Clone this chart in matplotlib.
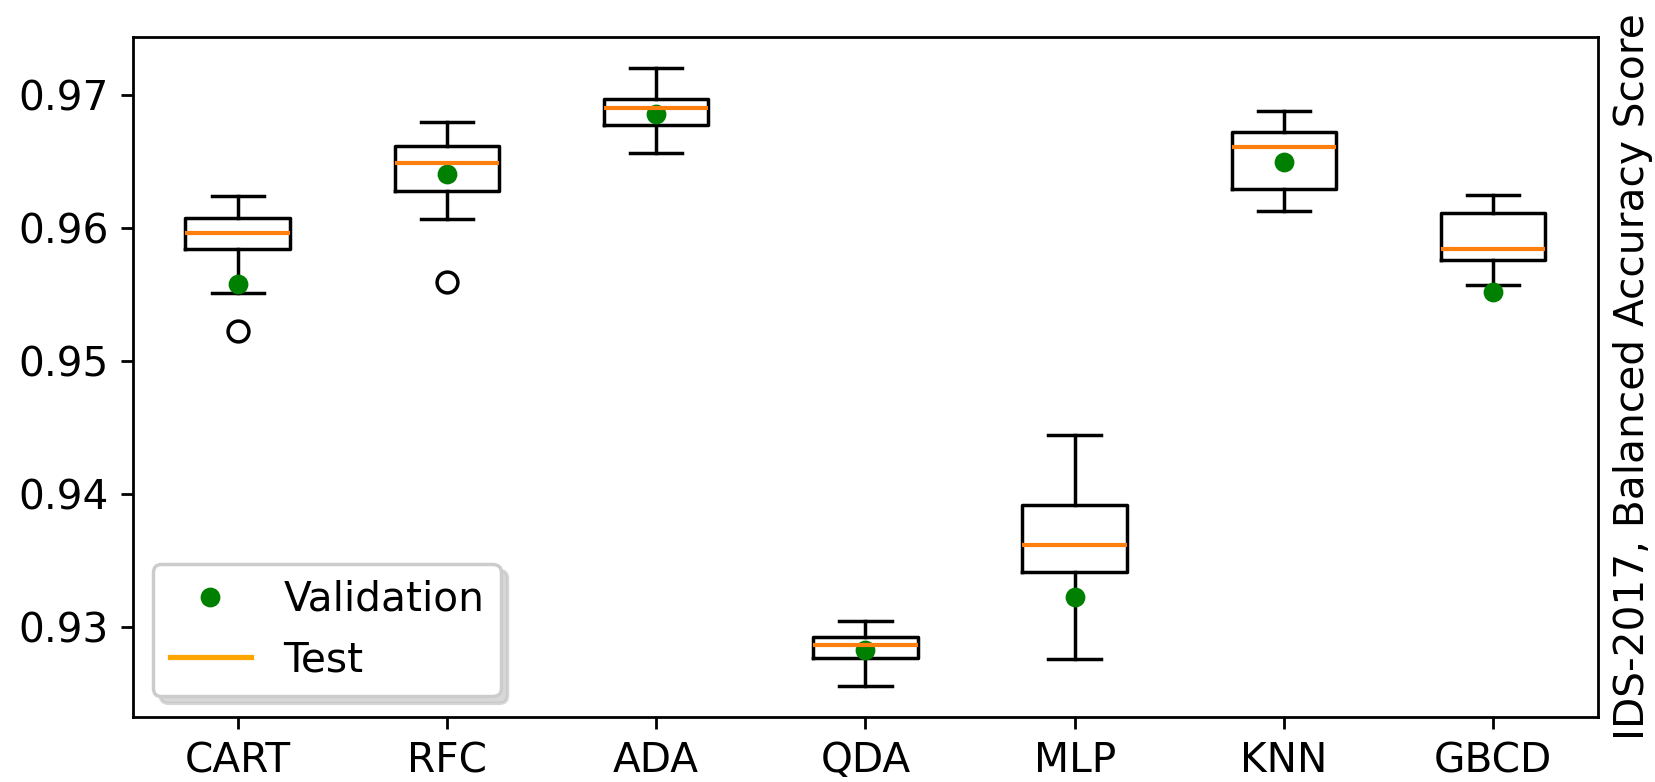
import matplotlib
matplotlib.use("Agg")
import matplotlib.pyplot as plt
from matplotlib.lines import Line2D

# Modelos
modelos = ["CART", "RFC", "ADA", "QDA", "MLP", "KNN", "GBCD"]

# Estatisticas do boxplot (teste)
whis_baixo = [0.9551, 0.96073, 0.96568, 0.92557, 0.92758, 0.9613, 0.95575]
q1 = [0.95843, 0.9628, 0.9678, 0.92766, 0.93413, 0.96293, 0.95763]
mediana = [0.95963, 0.96493, 0.96908, 0.92866, 0.9362, 0.96613, 0.95843]
q3 = [0.9608, 0.96623, 0.96973, 0.92924, 0.93917, 0.96725, 0.96118]
whis_alto = [0.96243, 0.968, 0.9721, 0.93043, 0.94448, 0.9688, 0.9625]
outliers = [[0.95225], [0.95593], [], [], [], [], []]

# Validacao
validacao = [0.9558, 0.9641, 0.9686, 0.92824, 0.93227, 0.965, 0.95523]

plt.rcParams["font.size"] = 11.7

stats = []
for i, nome in enumerate(modelos):
    stats.append({
        "label": nome,
        "whislo": whis_baixo[i],
        "q1": q1[i],
        "med": mediana[i],
        "q3": q3[i],
        "whishi": whis_alto[i],
        "fliers": outliers[i],
    })

fig, ax = plt.subplots(figsize=(6.62, 3.128), dpi=250)
fig.subplots_adjust(left=0.0804, right=0.9654, top=0.9531, bottom=0.0835)

posicoes = list(range(1, len(modelos) + 1))
ax.bxp(stats, positions=posicoes, medianprops={"color": "C1", "linewidth": 1.2})
ax.plot(posicoes, validacao, "o", color="green", markersize=4.7)

ax.set_ylabel("IDS-2017, Balanced Accuracy Score")
ax.yaxis.set_label_position("right")
ax.yaxis.labelpad = 4.5

handles = [
    Line2D([], [], marker="o", linestyle="none", color="green", markersize=4.7),
    Line2D([], [], color="orange", linewidth=1.5),
]
ax.legend(handles, ["Validation", "Test"], loc="lower left",
          shadow={"color": "0.75", "alpha": 0.6})

plt.savefig("out.png", dpi=250)
